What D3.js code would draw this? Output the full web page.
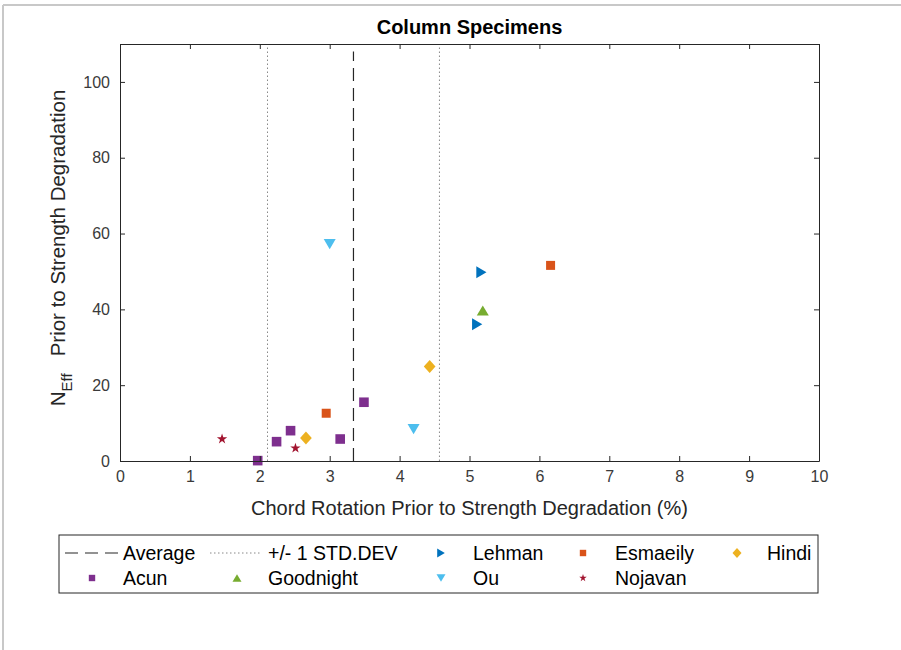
<!DOCTYPE html>
<html>
<head>
<meta charset="utf-8">
<script src="https://cdn.jsdelivr.net/npm/d3@7"></script>
<style>
  body { margin: 0; background: #fff; }
  svg { display: block; font-family: "Liberation Sans", Arial, Helvetica, sans-serif; }
</style>
</head>
<body>
<svg id="chart"></svg>
<script>
// series data (chord rotation %, N_eff)
const lehmanX = [5.17, 5.11];
const lehmanY = [49.8, 36.1];
const esmaeilyX = [6.16, 2.95];
const esmaeilyY = [51.6, 12.6];
const hindiX = [4.43, 2.66];
const hindiY = [24.9, 6.1];
const acunX = [3.49, 2.44, 2.24, 3.15, 1.97];
const acunY = [15.5, 8.0, 5.1, 5.8, 0.1];
const goodnightX = [5.19];
const goodnightY = [39.7];
const ouX = [3.0, 4.2];
const ouY = [57.2, 8.4];
const nojavanX = [1.46, 2.51];
const nojavanY = [5.8, 3.4];

const average = 3.34;
const stdDev = 1.23;

const xTicks = [0, 1, 2, 3, 4, 5, 6, 7, 8, 9, 10];
const yTicks = [0, 20, 40, 60, 80, 100];

const width = 901, height = 650;
const margin = { top: 44, right: 82, bottom: 189, left: 120 };
const axisColor = "#262626";

const svg = d3.select("#chart").attr("width", width).attr("height", height);

// figure window border (top and left only)
svg.append("line").attr("x1", 3).attr("x2", width).attr("y1", 5).attr("y2", 5)
  .attr("stroke", "#c8c8c8").attr("stroke-width", 2);
svg.append("line").attr("x1", 3).attr("x2", 3).attr("y1", 5).attr("y2", height)
  .attr("stroke", "#c8c8c8").attr("stroke-width", 2);

const x = d3.scaleLinear().domain([0, 10]).range([margin.left, width - margin.right]);
const y = d3.scaleLinear().domain([0, 110]).range([height - margin.bottom, margin.top]);

// custom marker shapes (r = half size)
const shapes = {
  square: r => `M${-r},${-r}H${r}V${r}H${-r}Z`,
  right: r => `M${-r * 0.85},${-r}L${r * 0.85},0L${-r * 0.85},${r}Z`,
  up: r => `M0,${-r * 0.85}L${r},${r * 0.85}L${-r},${r * 0.85}Z`,
  down: r => `M0,${r * 0.85}L${r},${-r * 0.85}L${-r},${-r * 0.85}Z`,
  diamond: r => `M0,${-r}L${r * 0.9},0L0,${r}L${-r * 0.9},0Z`,
  star: r => d3.symbol(d3.symbolStar, r * r * 1.1)()
};

const series = [
  { name: "Lehman", xs: lehmanX, ys: lehmanY, color: "#0072BD", shape: "right", r: 6, lr: 4.5 },
  { name: "Esmaeily", xs: esmaeilyX, ys: esmaeilyY, color: "#D95319", shape: "square", r: 4.5, lr: 3.2 },
  { name: "Hindi", xs: hindiX, ys: hindiY, color: "#EDB120", shape: "diamond", r: 6.5, lr: 5 },
  { name: "Acun", xs: acunX, ys: acunY, color: "#7E2F8E", shape: "square", r: 4.8, lr: 3.2 },
  { name: "Goodnight", xs: goodnightX, ys: goodnightY, color: "#77AC30", shape: "up", r: 6, lr: 4.5 },
  { name: "Ou", xs: ouX, ys: ouY, color: "#4DBEEE", shape: "down", r: 6, lr: 4.5 },
  { name: "Nojavan", xs: nojavanX, ys: nojavanY, color: "#A2142F", shape: "star", r: 5.5, lr: 4 }
];

// average and +/- 1 std lines
svg.append("line")
  .attr("x1", x(average)).attr("x2", x(average))
  .attr("y1", y(0)).attr("y2", y(108))
  .attr("stroke", axisColor).attr("stroke-width", 1.2)
  .attr("stroke-dasharray", "13,7");

[average - stdDev, average + stdDev].forEach(v => {
  svg.append("line")
    .attr("x1", x(v)).attr("x2", x(v))
    .attr("y1", y(0)).attr("y2", y(110))
    .attr("stroke", "#888").attr("stroke-width", 1)
    .attr("stroke-dasharray", "1.5,2.5");
});

// scatter points
series.forEach(s => {
  const pts = s.xs.map((v, i) => [v, s.ys[i]]);
  svg.append("g").selectAll("path")
    .data(pts)
    .enter()
    .append("path")
    .attr("transform", d => `translate(${x(d[0])},${y(d[1])})`)
    .attr("d", shapes[s.shape](s.r))
    .attr("fill", s.color);
});

// axes box with inward ticks
const xAxis = svg.append("g")
  .attr("transform", `translate(0,${y(0)})`)
  .call(d3.axisBottom(x).tickValues(xTicks).tickSizeInner(-5).tickSizeOuter(0).tickPadding(10));
const xAxisTop = svg.append("g")
  .attr("transform", `translate(0,${y(110)})`)
  .call(d3.axisTop(x).tickValues(xTicks).tickSizeInner(-5).tickSizeOuter(0).tickFormat(""));
const yAxis = svg.append("g")
  .attr("transform", `translate(${x(0)},0)`)
  .call(d3.axisLeft(y).tickValues(yTicks).tickSizeInner(-5).tickSizeOuter(0).tickPadding(10));
const yAxisRight = svg.append("g")
  .attr("transform", `translate(${x(10)},0)`)
  .call(d3.axisRight(y).tickValues(yTicks).tickSizeInner(-5).tickSizeOuter(0).tickFormat(""));

[xAxis, xAxisTop, yAxis, yAxisRight].forEach(g => {
  g.select(".domain").attr("stroke", axisColor);
  g.selectAll(".tick line").attr("stroke", axisColor);
  g.selectAll(".tick text")
    .attr("fill", "#3a3a3a")
    .style("font-size", "16px")
    .style("font-family", "'Liberation Sans', Arial, sans-serif");
});

// title
svg.append("text")
  .attr("x", (x(0) + x(10)) / 2)
  .attr("y", 34)
  .attr("text-anchor", "middle")
  .style("font-size", "20px")
  .style("font-weight", "bold")
  .attr("fill", "#000")
  .text("Column Specimens");

// x label
svg.append("text")
  .attr("x", (x(0) + x(10)) / 2)
  .attr("y", 515)
  .attr("text-anchor", "middle")
  .style("font-size", "20px")
  .attr("fill", axisColor)
  .text("Chord Rotation Prior to Strength Degradation (%)");

// y label with subscript
const yLabel = svg.append("text")
  .attr("transform", `translate(65,248) rotate(-90)`)
  .attr("text-anchor", "middle")
  .style("font-size", "20.5px")
  .attr("fill", axisColor);
yLabel.append("tspan").text("N");
yLabel.append("tspan").attr("dy", 7).style("font-size", "15px").text("Eff");
yLabel.append("tspan").attr("dy", -7).text("\u00a0\u00a0\u00a0Prior to Strength Degradation");

// legend
const legend = svg.append("g").attr("class", "legend");
legend.append("rect")
  .attr("x", 59).attr("y", 535)
  .attr("width", 759).attr("height", 58)
  .attr("fill", "#fff").attr("stroke", axisColor).attr("stroke-width", 1);

const row1 = 553, row2 = 578;
const legendText = (tx, ty, label) => legend.append("text")
  .attr("x", tx).attr("y", ty).attr("dy", "0.35em")
  .style("font-size", "19.5px").attr("fill", "#000").text(label);

legend.append("line").attr("x1", 65).attr("x2", 118).attr("y1", row1).attr("y2", row1)
  .attr("stroke", axisColor).attr("stroke-width", 1.2).attr("stroke-dasharray", "13,7");
legendText(123, row1, "Average");
legend.append("line").attr("x1", 210).attr("x2", 260).attr("y1", row1).attr("y2", row1)
  .attr("stroke", "#888").attr("stroke-width", 1).attr("stroke-dasharray", "1.5,2.5");
legendText(268, row1, "+/- 1 STD.DEV");

// marker entries: [icon x, text x, row y]
const legendPos = {
  "Lehman": [441, 473, row1],
  "Esmaeily": [583, 615, row1],
  "Hindi": [737, 767, row1],
  "Acun": [92, 123, row2],
  "Goodnight": [237, 268, row2],
  "Ou": [441, 473, row2],
  "Nojavan": [583, 615, row2]
};
series.forEach(s => {
  const p = legendPos[s.name];
  legend.append("path")
    .attr("transform", `translate(${p[0]},${p[2]})`)
    .attr("d", shapes[s.shape](s.lr))
    .attr("fill", s.color);
  legendText(p[1], p[2], s.name);
});
</script>
</body>
</html>
